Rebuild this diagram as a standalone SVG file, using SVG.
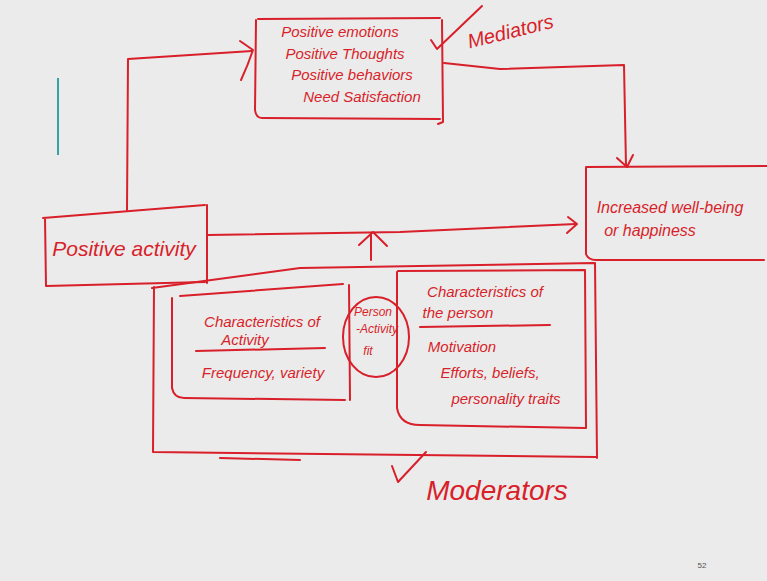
<svg xmlns="http://www.w3.org/2000/svg" width="767" height="581" viewBox="0 0 767 581">
<defs>
<style>
.ink{fill:none;stroke:#d81f2a;stroke-width:2;stroke-linecap:round;stroke-linejoin:round}
.t{font-family:"Liberation Sans",Arial,sans-serif;font-style:italic;fill:#d81f2a;text-anchor:middle}
</style>
</defs>
<rect width="767" height="581" fill="#ebebeb"/>
<line x1="58" y1="78" x2="58" y2="155" stroke="#3aa0a8" stroke-width="2"/>
<g id="connectors">
<polyline class="ink" points="127,210 128,59 252,51"/>
<path class="ink" d="M240,41 L253,50 Q248,65 241,80"/>
<polyline class="ink" points="444,63 500,69 624,65 626,166"/>
<polyline class="ink" points="617,158 627,167 633,155"/>
<polyline class="ink" points="208,235 400,232 576,224"/>
<polyline class="ink" points="568,217 577,224 567,233"/>
<line class="ink" x1="371" y1="260" x2="371" y2="233"/>
<polyline class="ink" points="359,245 373,232 387,246"/>
</g>
<g id="mediators">
<path class="ink" d="M258,19 L440,18 M256,20 L255,110 Q256,118 262,118 L440,119 M442,20 L443,122 L438,124"/>
<text class="t" font-size="15"><tspan x="340" y="37">Positive emotions</tspan><tspan x="345" y="59">Positive Thoughts</tspan><tspan x="352" y="80">Positive behaviors</tspan><tspan x="362" y="102">Need Satisfaction</tspan></text>
<path class="ink" d="M431,40 L437,49 L482,6"/>
<text class="t" font-size="20" transform="translate(512,38) rotate(-14)">Mediators</text>
</g>
<g id="positive-activity">
<path class="ink" d="M43,218 L205,205 M45,218 L46,286 L205,282 M207,205 L207,283"/>
<text class="t" font-size="21" x="124" y="256">Positive activity</text>
</g>
<g id="wellbeing">
<path class="ink" d="M586,167 L767,166 M586,168 L586,254 Q588,260 596,260 L764,260"/>
<text class="t" font-size="16"><tspan x="670" y="213">Increased well-being</tspan><tspan x="650" y="236">or happiness</tspan></text>
</g>
<g id="moderators">
<path class="ink" d="M152,288 L300,268 L594,263 M154,287 L153,452 L596,457 M595,263 L597,458"/>
<path class="ink" d="M220,458 L300,460"/>
<path class="ink" d="M392,466 L398,482 L426,452"/>
<text class="t" font-size="28" x="497" y="500">Moderators</text>
</g>
<g id="activity-characteristics">
<path class="ink" d="M180,296 L343,284 M172,298 L172,388 Q174,398 184,398 L345,400 M349,285 L350,400"/>
<line class="ink" x1="196" y1="351" x2="325" y2="348"/>
<text class="t" font-size="15"><tspan x="262" y="327">Characteristics of</tspan><tspan x="245" y="345">Activity</tspan><tspan x="263" y="378">Frequency, variety</tspan></text>
</g>
<g id="fit">
<ellipse class="ink" cx="376" cy="337" rx="33" ry="40"/>
<text class="t" font-size="12"><tspan x="373" y="316">Person</tspan><tspan x="377" y="333">-Activity</tspan><tspan x="368" y="355">fit</tspan></text>
</g>
<g id="person-characteristics">
<path class="ink" d="M398,271 L585,270 M397,272 L397,408 Q400,425 420,425 L585,428 M585,270 L586,428"/>
<line class="ink" x1="420" y1="327" x2="550" y2="325"/>
<text class="t" font-size="15"><tspan x="485" y="297">Characteristics of</tspan><tspan x="458" y="318">the person</tspan><tspan x="462" y="352">Motivation</tspan><tspan x="490" y="378">Efforts, beliefs,</tspan><tspan x="506" y="404">personality traits</tspan></text>
</g>
<text x="702" y="568" font-family="Liberation Sans,Arial,sans-serif" font-size="8" fill="#555" text-anchor="middle">52</text>
</svg>
